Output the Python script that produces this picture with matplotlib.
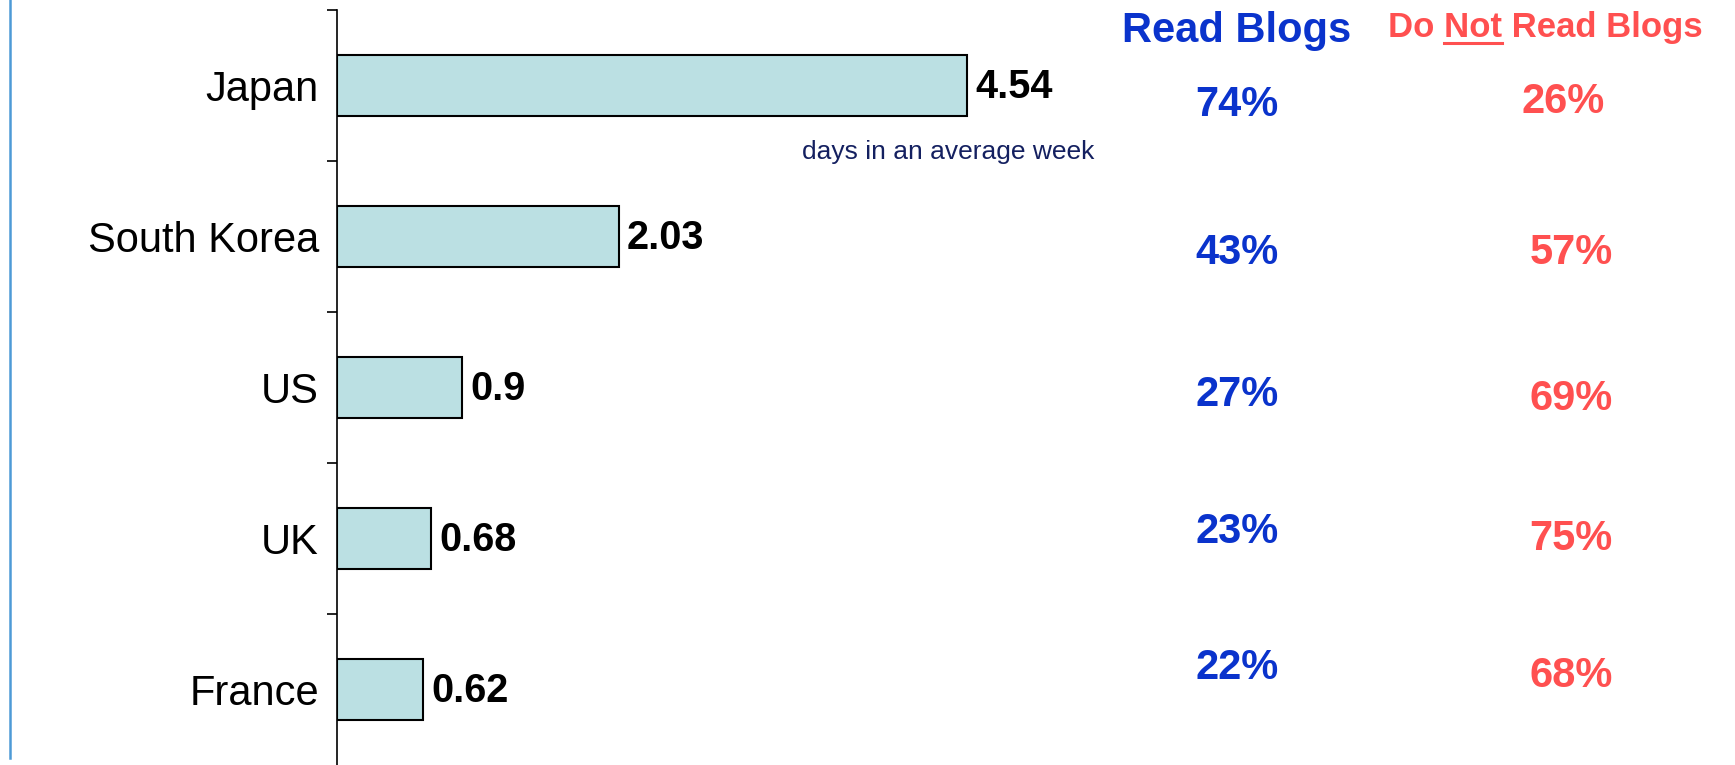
import matplotlib.pyplot as plt
from matplotlib.lines import Line2D

plt.rcParams['font.family'] = ['Liberation Sans', 'DejaVu Sans']

countries = ["Japan", "South Korea", "US", "UK", "France"]
days_per_week = [4.54, 2.03, 0.9, 0.68, 0.62]
day_labels = ["4.54", "2.03", "0.9", "0.68", "0.62"]
read_blogs = ["74%", "43%", "27%", "23%", "22%"]
not_read_blogs = ["26%", "57%", "69%", "75%", "68%"]

W, H = 1735, 765
fig = plt.figure(figsize=(W / 100, H / 100), dpi=100)
ax = fig.add_axes([337 / W, 0.0, 0.64, 1 - 10 / H])

ypos = list(range(len(countries)))
ax.barh(ypos, days_per_week, height=0.4, color="#bbe0e3", edgecolor="black", linewidth=1.5)
for y, v, lab in zip(ypos, days_per_week, day_labels):
    ax.text(v + 0.06, y + 0.01, lab, va="center", ha="left", fontsize=28.5, fontweight="bold", color="black")

ax.set_ylim(len(countries) - 0.5, -0.5)
ax.set_xlim(0, 8)
ax.set_yticks(ypos)
ax.set_yticklabels(countries, fontsize=30)
ax.tick_params(axis="y", which="major", length=0, pad=13)
ax.set_yticks([i - 0.5 for i in range(len(countries))], minor=True)
ax.tick_params(axis="y", which="minor", length=7, width=1.2, direction="out")
ax.set_xticks([])
for s in ["top", "right", "bottom"]:
    ax.spines[s].set_visible(False)
ax.spines["left"].set_linewidth(1.2)

# unit note under the Japan bar
fig.text(948 / W, 1 - 152 / H, "days in an average week", ha="center", va="center",
         fontsize=19, color="#142060")

# column headers
blue = "#0a33cc"
red = "#ff5050"
fig.text(1237 / W, 1 - 31 / H, "Read Blogs", ha="center", va="center",
         fontsize=30, fontweight="bold", color=blue)
hdr = fig.text(1545 / W, 1 - 28 / H, "Do Not Read Blogs", ha="center", va="center",
               fontsize=25, fontweight="bold", color=red)

# percentage columns
blue_y = [105, 253, 395, 532, 668]
red_y = [102, 253, 399, 539, 676]
red_x = [1563, 1571, 1571, 1571, 1571]
for py, txt in zip(blue_y, read_blogs):
    fig.text(1237 / W, 1 - py / H, txt, ha="center", va="center",
             fontsize=30, fontweight="bold", color=blue)
for px, py, txt in zip(red_x, red_y, not_read_blogs):
    fig.text(px / W, 1 - py / H, txt, ha="center", va="center",
             fontsize=30, fontweight="bold", color=red)

# underline "Not" in the header
fig.canvas.draw()
r = fig.canvas.get_renderer()
bb = hdr.get_window_extent(r)
tmp = fig.text(0, 0, "Do Not", fontsize=25, fontweight="bold")
w_donot = tmp.get_window_extent(r).width
tmp.set_text("Not")
w_not = tmp.get_window_extent(r).width
tmp.remove()
x1 = bb.x0 + w_donot
x0 = x1 - w_not
fig.add_artist(Line2D([x0 / W, x1 / W], [1 - 43 / H, 1 - 43 / H], transform=fig.transFigure,
                      color=red, linewidth=2.2))

# slide border on the left
fig.add_artist(Line2D([10 / W, 10 / W], [1 - 758 / H, 1.0], transform=fig.transFigure,
                      color="#4d9ad6", linewidth=1.8))

fig.savefig("out.png", dpi=100)
